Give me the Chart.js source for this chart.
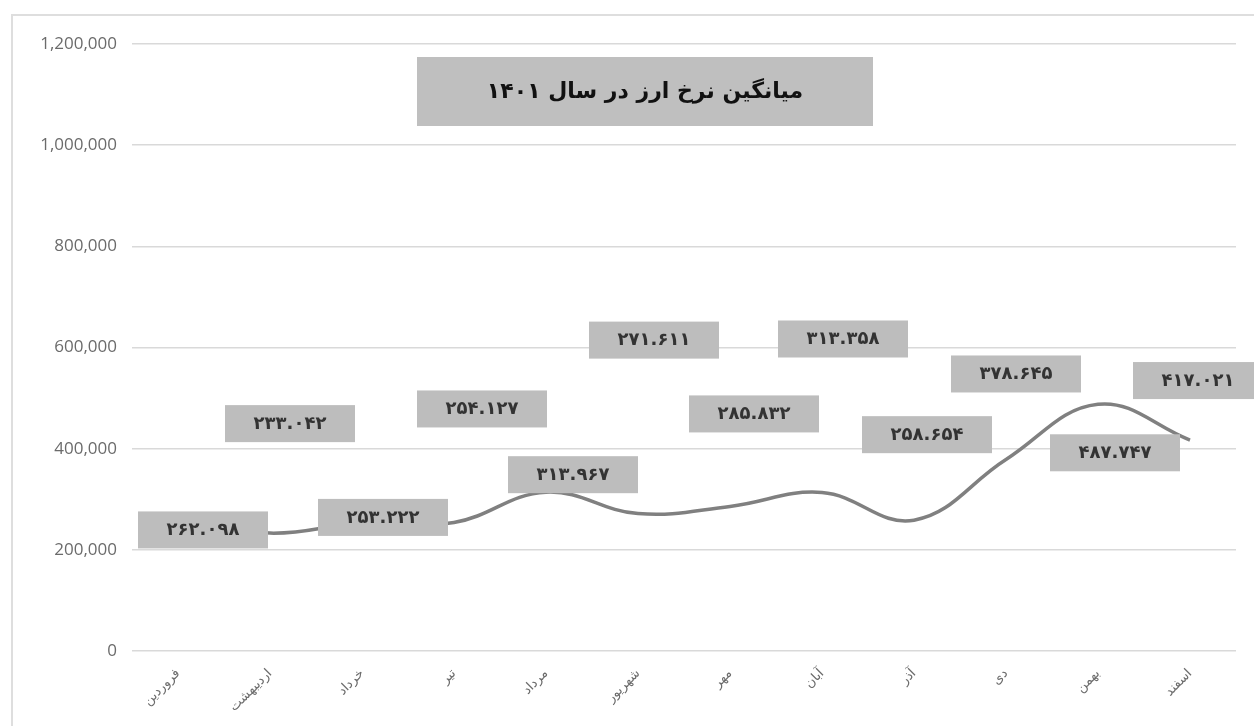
<!DOCTYPE html>
<html>
<head>
<meta charset="utf-8">
<script src="https://cdn.jsdelivr.net/npm/chart.js@4.4.0/dist/chart.umd.min.js"></script>
<style>
    html, body { margin: 0; padding: 0; background: #fff; }
    #wrap { position: relative; width: 1254px; height: 726px; overflow: hidden; }
    #frame { position: absolute; left: 11px; top: 14px; width: 1300px; height: 800px; border: 2px solid #dedede; box-sizing: border-box; }
    #rateChart { position: absolute; left: 0; top: 0; }
</style>
</head>
<body>
<div id="wrap">
    <div id="frame"></div>
    <canvas id="rateChart" width="1254" height="726"></canvas>
</div>
<script>
// months of 1401 and average rate per month
const months = ["فروردین", "اردیبهشت", "خرداد", "تیر", "مرداد", "شهریور", "مهر", "آبان", "آذر", "دی", "بهمن", "اسفند"];
const rates = [262098, 233042, 253222, 254127, 313967, 271611, 285832, 313358, 258654, 378645, 487747, 417021];
const chartTitle = "میانگین نرخ ارز در سال ۱۴۰۱";

// where each value box sits relative to its point (px)
const labelShift = [[25, 11], [20, -110], [21, -6], [28, -114], [27, -18], [16, -174],
                    [24, -93], [21, -154], [13, -86], [10, -86], [17, 48], [8, -60]];

function toPersianNumber(n) {
    return n.toLocaleString("en-US")
        .replace(/,/g, ".")
        .replace(/\d/g, d => "۰۱۲۳۴۵۶۷۸۹"[d]);
}

// gray title box and value boxes
const boxesPlugin = {
    id: "boxes",
    afterDatasetsDraw(chart) {
        const ctx = chart.ctx;
        const meta = chart.getDatasetMeta(0);
        ctx.save();

        ctx.fillStyle = "#bfbfbf";
        ctx.fillRect(417, 57, 456, 69);
        ctx.fillStyle = "#111";
        ctx.font = 'bold 22px "DejaVu Sans"';
        ctx.textAlign = "center";
        ctx.textBaseline = "middle";
        ctx.direction = "rtl";
        ctx.fillText(chartTitle, 645, 92);
        ctx.direction = "ltr";

        meta.data.forEach((pt, i) => {
            const cx = pt.x + labelShift[i][0];
            const cy = pt.y + labelShift[i][1];
            ctx.fillStyle = "#bdbdbd";
            ctx.fillRect(cx - 65, cy - 18, 130, 37);
            ctx.fillStyle = "#333";
            ctx.font = 'bold 18px "DejaVu Sans"';
            ctx.fillText(toPersianNumber(rates[i]), cx, cy + 1);
        });
        ctx.restore();
    }
};

new Chart(document.getElementById("rateChart").getContext("2d"), {
    type: "line",
    data: {
        labels: months,
        datasets: [{
            data: rates,
            borderColor: "#808080",
            borderWidth: 3.5,
            tension: 0.4,
            pointRadius: 0,
            fill: false,
            clip: false
        }]
    },
    options: {
        responsive: false,
        animation: false,
        devicePixelRatio: 1,
        layout: {
            padding: { left: 32, top: 44, right: 18, bottom: 0 }
        },
        plugins: {
            legend: { display: false },
            tooltip: { enabled: false }
        },
        scales: {
            x: {
                offset: true,
                grid: { display: false },
                border: { display: false },
                ticks: {
                    autoSkip: false,
                    minRotation: 45,
                    maxRotation: 45,
                    padding: 7,
                    color: "#6b6b6b",
                    font: { family: "DejaVu Sans", size: 13 }
                },
                afterFit(scale) { scale.height = 75; }
            },
            y: {
                min: 0,
                max: 1200000,
                border: { display: false },
                grid: { color: "#d9d9d9", lineWidth: 1.5, drawTicks: false },
                ticks: {
                    stepSize: 200000,
                    padding: 15,
                    color: "#6b6b6b",
                    font: { family: "Open Sans", size: 17 },
                    callback: v => v.toLocaleString("en-US")
                },
                afterFit(scale) { scale.width = 100; }
            }
        }
    },
    plugins: [boxesPlugin]
});
</script>
</body>
</html>
